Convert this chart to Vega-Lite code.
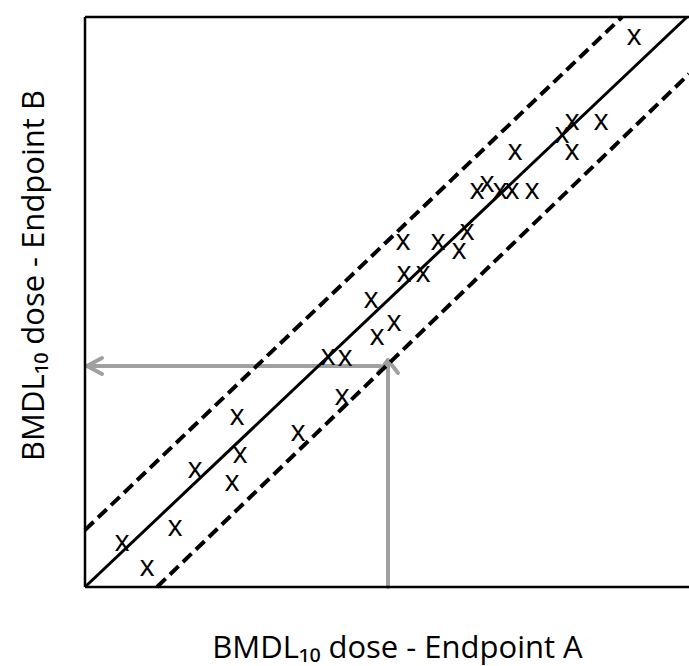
{
  "$schema": "https://vega.github.io/schema/vega-lite/v6.json",
  "width": 604,
  "height": 570,
  "autosize": {"type": "none"},
  "padding": {"left": 85, "top": 17, "right": 0, "bottom": 79},
  "background": "white",
  "config": {"view": {"stroke": null}},
  "datasets": {
    "frame": [
      {"x": 0, "y": 0, "x2": 0, "y2": 570},
      {"x": 0, "y": 570, "x2": 604, "y2": 570},
      {"x": 0, "y": 0, "x2": 604, "y2": 0}
    ],
    "arrows": [
      {"x": 303, "y": 0, "x2": 303, "y2": 226},
      {"x": 303, "y": 227, "x2": 293, "y2": 214},
      {"x": 303, "y": 227, "x2": 313, "y2": 214},
      {"x": 3, "y": 221, "x2": 295, "y2": 221},
      {"x": 2, "y": 221, "x2": 17, "y2": 229},
      {"x": 2, "y": 221, "x2": 17, "y2": 213}
    ],
    "solid": [
      {"x": 0, "y": 0, "x2": 602, "y2": 570}
    ],
    "dashed": [
      {"x": 0, "y": 57, "x2": 537, "y2": 570},
      {"x": 72, "y": 0, "x2": 604, "y2": 513}
    ],
    "points": [
      {"x": 549, "y": 550}, {"x": 487, "y": 465}, {"x": 516, "y": 465},
      {"x": 477, "y": 452}, {"x": 487, "y": 435}, {"x": 430, "y": 435},
      {"x": 392, "y": 396}, {"x": 402, "y": 403}, {"x": 415, "y": 396},
      {"x": 427, "y": 396}, {"x": 447, "y": 396}, {"x": 318, "y": 345},
      {"x": 353, "y": 345}, {"x": 382, "y": 355}, {"x": 374, "y": 336},
      {"x": 319, "y": 313}, {"x": 338, "y": 313}, {"x": 286, "y": 287},
      {"x": 309, "y": 264}, {"x": 292, "y": 250}, {"x": 243, "y": 230},
      {"x": 260, "y": 229}, {"x": 257, "y": 190}, {"x": 213, "y": 154},
      {"x": 152, "y": 170}, {"x": 155, "y": 132}, {"x": 110, "y": 117},
      {"x": 147, "y": 104}, {"x": 90, "y": 59}, {"x": 37, "y": 44},
      {"x": 62, "y": 19}
    ]
  },
  "encoding": {
    "x": {
      "field": "x", "type": "quantitative",
      "scale": {"domain": [0, 604], "nice": false, "zero": false},
      "axis": {
        "title": "BMDL₁₀ dose - Endpoint A",
        "labels": false, "ticks": false, "domain": false, "grid": false,
        "titleFont": "Open Sans", "titleFontSize": 31, "titleFontWeight": "normal",
        "titleColor": "#000000", "titleX": 312, "titleY": 70,
        "titleAlign": "center", "titleBaseline": "alphabetic"
      }
    },
    "y": {
      "field": "y", "type": "quantitative",
      "scale": {"domain": [0, 570], "nice": false, "zero": false},
      "axis": {
        "title": "BMDL₁₀ dose - Endpoint B",
        "labels": false, "ticks": false, "domain": false, "grid": false,
        "titleFont": "Open Sans", "titleFontSize": 31, "titleFontWeight": "normal",
        "titleColor": "#000000", "titleX": -42, "titleY": 258,
        "titleAlign": "center", "titleBaseline": "alphabetic", "titleAngle": -90
      }
    }
  },
  "layer": [
    {
      "data": {"name": "arrows"},
      "mark": {"type": "rule", "color": "#a0a0a0", "strokeWidth": 4, "strokeCap": "round"},
      "encoding": {"x2": {"field": "x2"}, "y2": {"field": "y2"}}
    },
    {
      "data": {"name": "frame"},
      "mark": {"type": "rule", "color": "#000000", "strokeWidth": 2.5},
      "encoding": {"x2": {"field": "x2"}, "y2": {"field": "y2"}}
    },
    {
      "data": {"name": "solid"},
      "mark": {"type": "rule", "color": "#000000", "strokeWidth": 3},
      "encoding": {"x2": {"field": "x2"}, "y2": {"field": "y2"}}
    },
    {
      "data": {"name": "dashed"},
      "mark": {"type": "rule", "color": "#000000", "strokeWidth": 4, "strokeDash": [12, 6]},
      "encoding": {"x2": {"field": "x2"}, "y2": {"field": "y2"}}
    },
    {
      "data": {"name": "points"},
      "mark": {"type": "text", "text": "x", "font": "Open Sans", "fontSize": 29, "color": "#000000", "align": "center", "baseline": "alphabetic", "dy": 7.5}
    }
  ]
}
